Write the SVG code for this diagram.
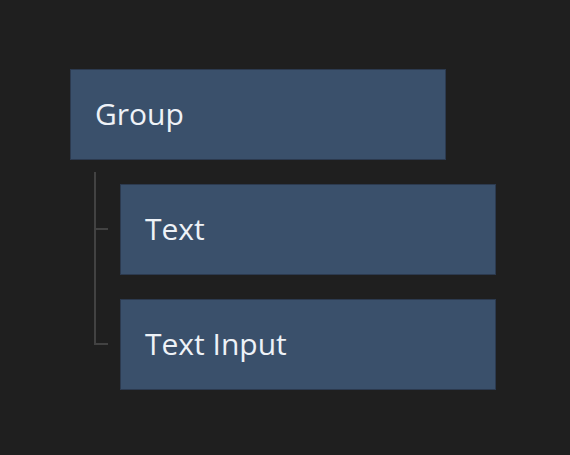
<svg xmlns="http://www.w3.org/2000/svg" width="570" height="455" viewBox="0 0 570 455">
<style>
.node{fill:#3a506b;stroke:#2c3a4f;stroke-width:1}
.lbl{font-family:"Open Sans",sans-serif;font-size:30px;fill:#eef2f7}
.tree{fill:none;stroke:#424242;stroke-width:2}
</style>
<rect width="570" height="455" fill="#1f1f1f"/>
<g id="connectors">
<path class="tree" d="M95 172 V344 H108 M95 229 H108"/>
</g>
<g id="group">
<rect class="node" x="70.5" y="69.5" width="375" height="90"/>
<text class="lbl" x="95" y="125">Group</text>
</g>
<g id="text">
<rect class="node" x="120.5" y="184.5" width="375" height="90"/>
<text class="lbl" x="145" y="240">Text</text>
</g>
<g id="text-input">
<rect class="node" x="120.5" y="299.5" width="375" height="90"/>
<text class="lbl" x="145" y="355">Text Input</text>
</g>
</svg>
